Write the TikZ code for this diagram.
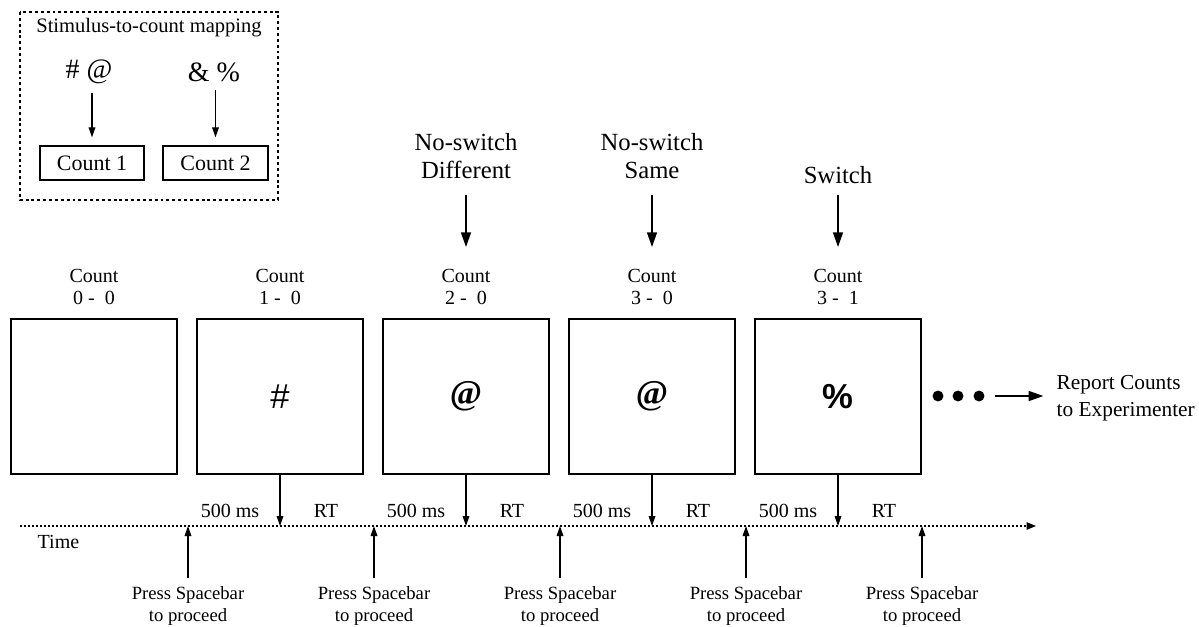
\documentclass[tikz,border=0pt]{standalone}
\usepackage{fontspec}
\setmainfont{Liberation Serif}
\newfontfamily\symfont{Liberation Sans}
\usetikzlibrary{arrows.meta}

\tikzset{
  frame/.style={draw,line width=1pt,minimum width=124.5pt,minimum height=116.25pt,inner sep=0pt},
  smallarrow/.style={-{Triangle[length=7.5pt,width=5pt]},line width=0.9pt},
  bigarrow/.style={-{Triangle[length=11pt,width=7.5pt]},line width=1.1pt},
  timeline/.style={line width=1pt,dash pattern=on 1.5pt off 1.5pt,-{Triangle[length=7pt,width=5.5pt]}},
  countlab/.style={align=center,font=\fontsize{15}{17}\selectfont},
  presslab/.style={align=center,anchor=north,inner sep=1pt,font=\fontsize{14}{16.5}\selectfont},
  toplab/.style={align=center,font=\fontsize{18.5}{21}\selectfont}
}

\begin{document}
\begin{tikzpicture}[x=0.75pt,y=-0.75pt]
\useasboundingbox(0,0)rectangle(1199,626);
% mapping inset
\draw[line width=0.9pt,dash pattern=on 2.2pt off 2.2pt](20,12)rectangle(278,200);
\node[font=\fontsize{15.4}{17}\selectfont](title)at(149,28){Stimulus-to-count mapping};
\node[font=\fontsize{21}{23}\selectfont](symA)at(89,72){\# @};
\node[font=\fontsize{21}{23}\selectfont](symB)at(214,72){\& \%};
\node[draw,line width=1pt,minimum width=78pt,minimum height=25.5pt,font=\fontsize{16.5}{18}\selectfont](cA)at(92,163){Count 1};
\node[draw,line width=1pt,minimum width=78.75pt,minimum height=25.5pt,font=\fontsize{16.5}{18}\selectfont](cB)at(215.5,163){Count 2};
\draw[smallarrow,shorten <=3pt,shorten >=6pt](symA.south-|cA.north)--(cA.north);
\draw[smallarrow,shorten <=3pt,shorten >=6pt](symB.south-|cB.north)--(cB.north);
% trial frames
\coordinate(t0)at(20,526);\coordinate(t1)at(1036,526);
\draw[timeline](t0)--(t1);
\node[countlab,anchor=west]at(33,542){Time};
\foreach[count=\j]\x/\s/\c in{94/{}/{0 -\enspace0},280/{\symfont\#}/{1 -\enspace0},466/{\bfseries @}/{2 -\enspace0},652/{\bfseries @}/{3 -\enspace0},838/{\symfont\bfseries\%}/{3 -\enspace1}}{
  \node[frame,font=\fontsize{26}{28}\selectfont](b\j)at(\x,396.5){\s};
  \node[countlab](n\j)at(\x,287){Count\\\c};
}
\foreach\j in{2,...,5}{
  \draw[smallarrow](b\j.south)--(b\j.south|-t0);
  \node[countlab,anchor=base]at([xshift=-37.5pt]b\j.south|-0,517){500 ms};
  \node[countlab,anchor=base]at([xshift=34.5pt]b\j.south|-0,517){RT};
}
\foreach[count=\j]\x in{188,374,560,746,922}{
  \node[presslab](p\j)at(\x,585){Press Spacebar\\to proceed};
  \draw[smallarrow,shorten <=5pt](p\j.north)--(p\j.north|-t0);
}
% trial types
\node[toplab](top3)at(466,156){No-switch\\Different};
\node[toplab](top4)at(652,156){No-switch\\Same};
\node[toplab](top5)at(838,175){Switch};
\foreach\j in{3,4,5}{\draw[bigarrow](top\j.south|-0,195)--(top\j.south|-0,247);}
% end of block
\foreach[count=\j]\x in{938,958,979}{\fill(\x,396)circle(4.1pt);}
\coordinate(e0)at(995,396);
\node[anchor=west,align=left,font=\fontsize{16}{20}\selectfont](rep)at(1052,398){Report Counts\\to Experimenter};
\draw[bigarrow,shorten >=6.5pt](e0)--(e0-|rep.west);
\end{tikzpicture}
\end{document}
